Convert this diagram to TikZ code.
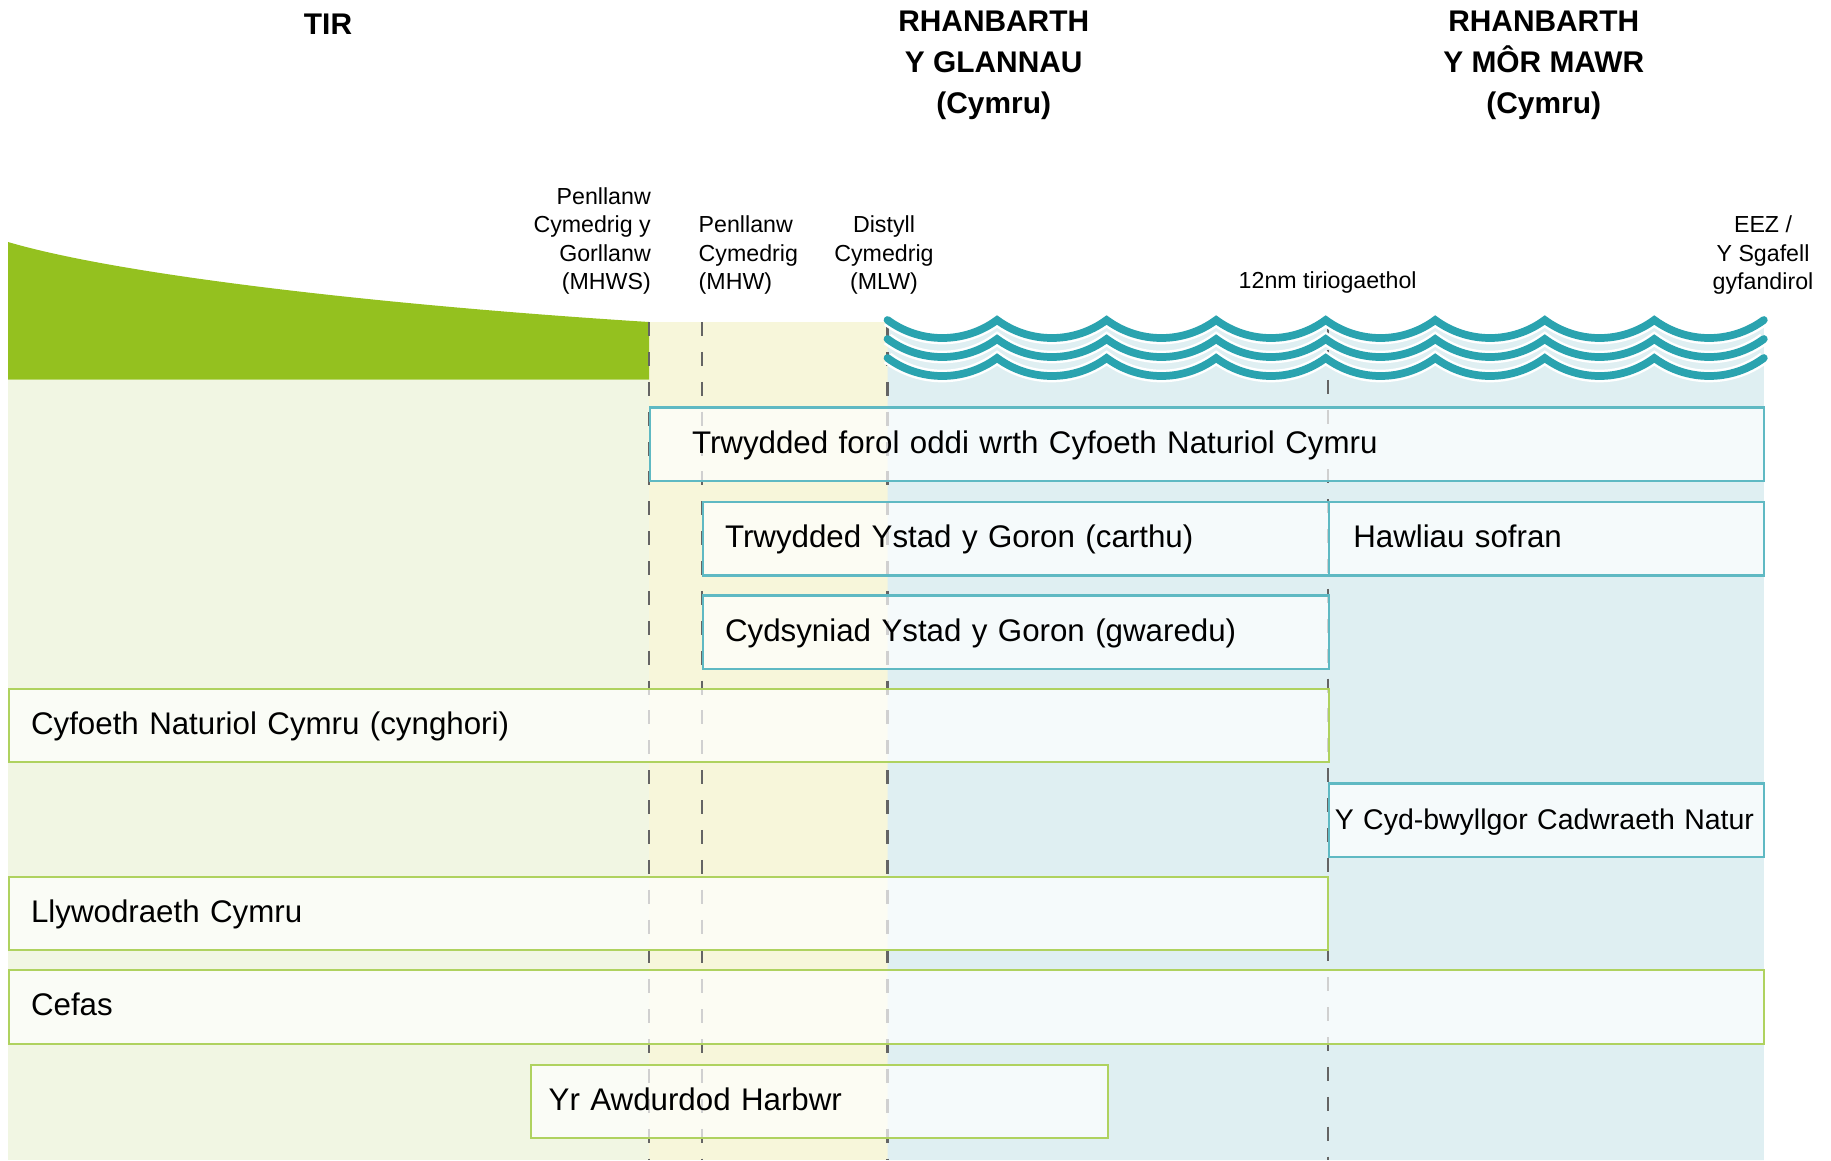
\documentclass[tikz,border=0pt]{standalone}
\usepackage{fontspec}
\setmainfont{Liberation Sans}
\usepackage{xcolor}
\usepackage{tikz}
\definecolor{land}{RGB}{148, 193, 31}
\definecolor{landbg}{RGB}{241, 246, 227}
\definecolor{shorebg}{RGB}{247, 246, 218}
\definecolor{seabg}{RGB}{223, 239, 242}
\definecolor{waveteal}{RGB}{42, 163, 175}
\definecolor{tealline}{RGB}{95, 185, 195}
\definecolor{greenline}{RGB}{175, 210, 95}
\definecolor{tidegray}{RGB}{100, 100, 100}

\begin{document}
\begin{tikzpicture}[every node/.style={inner sep=0pt},
  region/.style={font=\fontsize{8.5}{11.7}\selectfont\bfseries, align=center, anchor=north},
  level/.style={font=\fontsize{6.6}{8.1}\selectfont},
  body/.style={anchor=north west, minimum height=0.735cm, inner ysep=0pt, fill=white, fill opacity=0.7, text opacity=1, line width=0.6pt, align=left, font=\fontsize{8.9}{10.7}\selectfont, text height=0.72em, text depth=0.21em},
  tealbox/.style={body, draw=tealline},
  greenbox/.style={body, draw=greenline},
  tide/.style={draw=tidegray, line width=0.6pt, dash pattern=on 4pt off 4.5pt},
  swell/.style={draw=waveteal, line width=2.2pt, line cap=round, preaction={draw=white, line width=3.6pt}}]
\useasboundingbox (0,0) rectangle (18.31,-11.60);

% Backgrounds
\fill[landbg] (0.08,-3.795) rectangle (6.49,-11.60);
\fill[shorebg] (6.49,-3.22) rectangle (8.875,-11.60);
\fill[seabg] (8.875,-3.20) \foreach \i in {1,...,8} {arc[start angle=233.6, end angle=306.4, radius=0.923]} -- (17.638,-11.60) -- (8.875,-11.60) -- cycle;
\fill[land] (0.08,-2.42) .. controls (1.2,-2.75) and (3.8,-3.05) .. (6.49,-3.22) -- (6.49,-3.795) -- (0.08,-3.795) -- cycle;

% Boundary lines
\coordinate (mhwsline) at (6.49,-3.22);
\coordinate (mhwline) at (7.02,-3.22);
\coordinate (mlwline) at (8.875,-3.22);
\coordinate (twelveline) at (13.277,-3.20);
\foreach \c in {mhwsline,mhwline,mlwline,twelveline}
  \draw[tide] (\c) -- (\c |- 0,-11.60);

% Waves
\foreach \y in {-3.58,-3.39,-3.20}
  \draw[swell] (8.875,\y) \foreach \i in {1,...,8} {arc[start angle=233.6, end angle=306.4, radius=0.923]};

% Regions
\node[region] (tir) at (3.28,-0.13) {TIR};
\node[region] (glannau) at (9.937,-0.10) {RHANBARTH\\Y GLANNAU\\(Cymru)};
\node[region] (mormawr) at (15.437,-0.10) {RHANBARTH\\Y MÔR MAWR\\(Cymru)};

% Levels
\node[level, anchor=north east, align=right] (mhws) at (6.515,-1.867) {Penllanw\\Cymedrig y\\Gorllanw\\(MHWS)};
\node[level, anchor=north west, align=left] (mhw) at (6.98,-2.154) {Penllanw\\Cymedrig\\(MHW)};
\node[level, anchor=north, align=center] (mlw) at (8.84,-2.154) {Distyll\\Cymedrig\\(MLW)};
\node[level, anchor=north] (twelve) at (13.277,-2.714) {12nm tiriogaethol};
\node[level, anchor=north, align=center] (eez) at (17.63,-2.154) {EEZ /\\Y Sgafell\\gyfandirol};

% Bodies
\node[tealbox, inner xsep=0.42cm, text width=10.30cm] (forol) at (6.49,-4.064) {Trwydded forol oddi wrth Cyfoeth Naturiol Cymru};
\node[tealbox, inner xsep=0.22cm, text width=5.817cm] (carthu) at (7.02,-5.009) {Trwydded Ystad y Goron (carthu)};
\node[tealbox, inner xsep=0.245cm, text width=3.863cm] (sofran) at (13.277,-5.009) {Hawliau sofran};
\node[tealbox, inner xsep=0.22cm, text width=5.817cm] (gwaredu) at (7.02,-5.944) {Cydsyniad Ystad y Goron (gwaredu)};
\node[greenbox, inner xsep=0.22cm, text width=12.757cm] (cynghori) at (0.08,-6.878) {Cyfoeth Naturiol Cymru (cynghori)};
\node[tealbox, inner xsep=0.06cm, text width=4.233cm, font=\fontsize{8.1}{10}\selectfont] (jncc) at (13.277,-7.824) {Y Cyd-bwyllgor Cadwraeth Natur};
\node[greenbox, inner xsep=0.22cm, text width=12.745cm] (llyw) at (0.08,-8.758) {Llywodraeth Cymru};
\node[greenbox, inner xsep=0.22cm, text width=17.11cm] (cefas) at (0.08,-9.692) {Cefas};
\node[greenbox, inner xsep=0.175cm, text width=5.419cm] (harbwr) at (5.301,-10.638) {Yr Awdurdod Harbwr};
\end{tikzpicture}
\end{document}
